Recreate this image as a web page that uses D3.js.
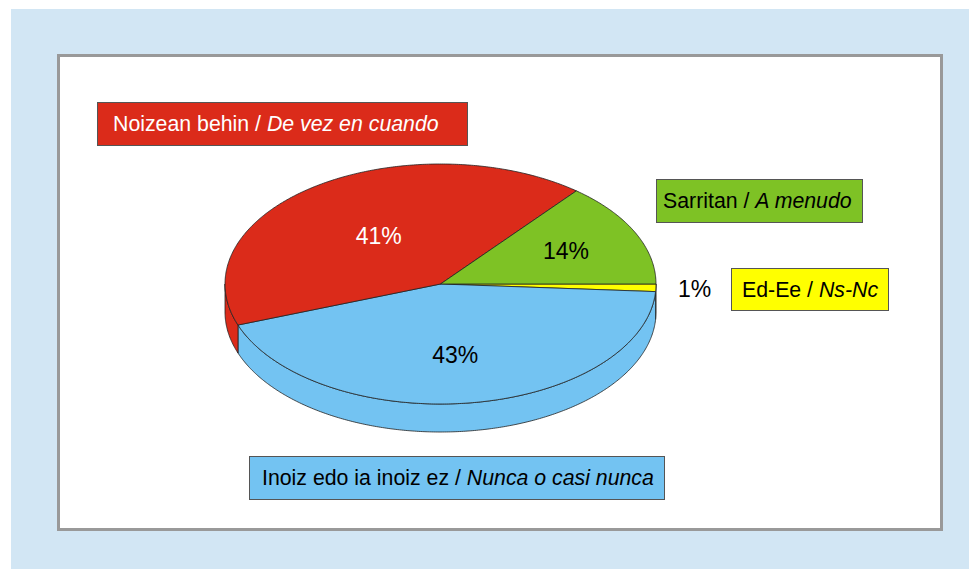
<!DOCTYPE html>
<html>
<head>
<meta charset="utf-8">
<script src="https://cdn.jsdelivr.net/npm/d3@7"></script>
<style>
  body { margin: 0; background: #fff; }
  svg { display: block; font-family: Arial, 'Liberation Sans', sans-serif; }
</style>
</head>
<body>
<svg id="chart"></svg>
<script>
'use strict';
// data, in the order the slices run clockwise from 3 o'clock
var categoriesEu = ['Ed-Ee', 'Inoiz edo ia inoiz ez', 'Noizean behin', 'Sarritan'];
var categoriesEs = ['Ns-Nc', 'Nunca o casi nunca', 'De vez en cuando', 'A menudo'];
var values = [1, 43, 41, 14];

// styles
var sliceColors = ['#ffff00', '#73c3f2', '#db2b1a', '#7ec225'];
var textColors = ['#000', '#000', '#fff', '#000'];

// canvas
var canvasWidth = 969;
var canvasHeight = 569;
var svg = d3.select('#chart')
    .attr('width', canvasWidth)
    .attr('height', canvasHeight);

// background + panel
svg.append('rect')
    .attr('x', 11).attr('y', 9)
    .attr('width', canvasWidth - 11).attr('height', canvasHeight - 9)
    .attr('fill', '#d2e6f4');
svg.append('rect')
    .attr('x', 58.5).attr('y', 55.5)
    .attr('width', 883).attr('height', 474)
    .attr('fill', '#fff')
    .attr('stroke', '#999')
    .attr('stroke-width', 3);

// pie geometry (ellipse seen at an angle)
var cx = 440.5, cy = 284, rx = 215.5, ry = 120, depth = 28;
var xScale = d3.scaleLinear().domain([-1, 1]).range([cx - rx, cx + rx]);
var yScale = d3.scaleLinear().domain([-1, 1]).range([cy + ry, cy - ry]);

function pt(a, r, dy) {
    return [xScale(r * Math.sin(a)), yScale(r * Math.cos(a)) + (dy || 0)];
}
function arcPoints(a0, a1, dy) {
    var n = Math.max(2, Math.ceil((a1 - a0) / 0.01));
    var pts = [];
    for (var i = 0; i <= n; i++) {
        pts.push(pt(a0 + (a1 - a0) * i / n, 1, dy));
    }
    return pts;
}
var line = d3.line();

var pie = d3.pie()
    .sort(null)
    .value(function (d) { return d; })
    .startAngle(Math.PI / 2)
    .endAngle(Math.PI / 2 + 2 * Math.PI);
var arcs = pie(values);

var pieArea = svg.append('g');

// side walls, only the front half is seen
var sides = arcs.map(function (d, i) {
    var a0 = Math.max(d.startAngle, Math.PI / 2);
    var a1 = Math.min(d.endAngle, 3 * Math.PI / 2);
    return {i: i, a0: a0, a1: a1};
}).filter(function (s) { return s.a1 > s.a0; });

pieArea.selectAll('path.side')
    .data(sides)
    .enter()
    .append('path')
    .attr('class', 'side')
    .attr('d', function (s) {
        var top = arcPoints(s.a0, s.a1, 0);
        var bottom = arcPoints(s.a0, s.a1, depth).reverse();
        return line(top.concat(bottom)) + 'Z';
    })
    .attr('fill', function (s) { return sliceColors[s.i]; })
    .attr('stroke', '#222')
    .attr('stroke-width', 0.8)
    .attr('stroke-linejoin', 'round');

// top faces
pieArea.selectAll('path.top')
    .data(arcs)
    .enter()
    .append('path')
    .attr('class', 'top')
    .attr('d', function (d) {
        var pts = [[cx, cy]].concat(arcPoints(d.startAngle, d.endAngle, 0));
        return line(pts) + 'Z';
    })
    .attr('fill', function (d, i) { return sliceColors[i]; })
    .attr('stroke', '#222')
    .attr('stroke-width', 0.8)
    .attr('stroke-linejoin', 'round');

// percent labels: sector centroid, pushed down a bit for front slices
var total = d3.sum(values);
pieArea.selectAll('text.pct')
    .data(arcs)
    .enter()
    .append('text')
    .attr('class', 'pct')
    .each(function (d, i) {
        var mid = (d.startAngle + d.endAngle) / 2;
        var half = (d.endAngle - d.startAngle) / 2;
        var small = d.value / total < 0.05;
        var r = small ? 1.18 : (2 / 3) * Math.sin(half) / half;
        var shift = small ? 0 : Math.max(0, -Math.cos(mid)) * depth / 2;
        var p = pt(mid, r, shift);
        d3.select(this)
            .attr('x', p[0])
            .attr('y', p[1])
            .attr('fill', small ? '#000' : textColors[i]);
    })
    .attr('dy', '0.35em')
    .attr('text-anchor', 'middle')
    .attr('font-size', 23)
    .text(function (d) { return d.value + '%'; });

// label boxes
var boxes = [
    {x: 731, y: 268, w: 157, h: 42, pad: 11},
    {x: 249, y: 456, w: 415, h: 43, pad: 13},
    {x: 97, y: 102, w: 370, h: 43, pad: 16},
    {x: 656, y: 179, w: 206, h: 43, pad: 7}
];

var legend = svg.selectAll('g.box')
    .data(boxes)
    .enter()
    .append('g')
    .attr('class', 'box');

legend.append('rect')
    .attr('x', function (b) { return b.x + 0.5; })
    .attr('y', function (b) { return b.y + 0.5; })
    .attr('width', function (b) { return b.w; })
    .attr('height', function (b) { return b.h; })
    .attr('fill', function (b, i) { return sliceColors[i]; })
    .attr('stroke', '#555')
    .attr('stroke-width', 1);

var labels = legend.append('text')
    .attr('x', function (b) { return b.x + b.pad; })
    .attr('y', function (b) { return b.y + b.h / 2; })
    .attr('dy', '0.36em')
    .attr('font-size', 21.3)
    .attr('fill', function (b, i) { return textColors[i]; });
labels.append('tspan')
    .text(function (b, i) { return categoriesEu[i] + ' / '; });
labels.append('tspan')
    .attr('font-style', 'italic')
    .text(function (b, i) { return categoriesEs[i]; });
</script>
</body>
</html>
